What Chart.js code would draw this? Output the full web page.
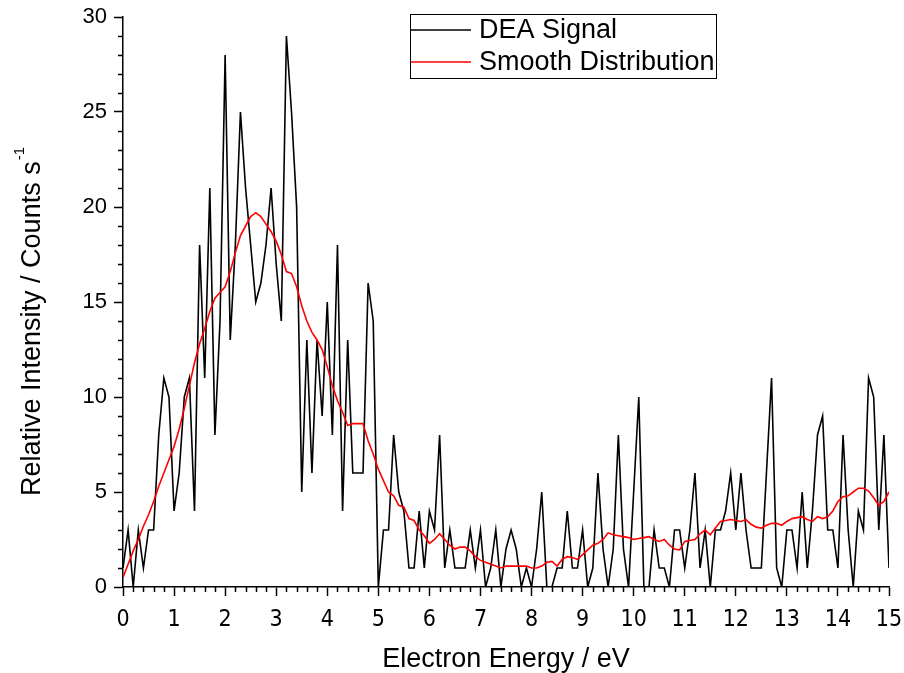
<!DOCTYPE html>
<html>
<head>
<meta charset="utf-8">
<script src="https://cdn.jsdelivr.net/npm/chart.js@4/dist/chart.umd.min.js"></script>
<style>
  html, body { margin: 0; padding: 0; background: #fff; }
  #wrap { width: 904px; height: 673px; }
</style>
</head>
<body>
<div id="wrap"><canvas id="graficoDEA" width="904" height="673"></canvas></div>
<script>
// energy grid: one reading every 0.1 eV from 0 to 15 eV
const energyStep = 0.1;

// DEA signal, counts per second
const deaSignal = [
  1, 3, 0, 3, 1, 3, 3, 8, 11, 10,
  4, 6, 10, 11, 4, 18, 11, 21, 8, 14,
  28, 13, 18, 25, 21, 18, 15, 16, 18, 21,
  17, 14, 29, 25, 20, 5, 13, 6, 13, 9,
  15, 8, 18, 4, 13, 6, 6, 6, 16, 14,
  0, 3, 3, 8, 5, 4, 1, 1, 4, 1,
  4, 3, 8, 1, 3, 1, 1, 1, 3, 1,
  3, 0, 1, 3, 0, 2, 3, 2, 0, 1,
  0, 2, 5, 0, 0, 1, 1, 4, 1, 1,
  3, 0, 1, 6, 2, 0, 2, 8, 2, 0,
  5, 10, 0, 0, 3, 1, 1, 0, 3, 3,
  1, 3, 6, 1, 3, 0, 3, 3, 4, 6,
  3, 6, 3, 1, 1, 1, 6, 11, 1, 0,
  3, 3, 1, 5, 1, 4, 8, 9, 3, 3,
  1, 8, 3, 0, 4, 3, 11, 10, 3, 8,
  1
];

// smoothed distribution on the same grid
const smoothDist = [
  0.5, 1.2, 1.9, 2.5, 3.2, 3.8, 4.5, 5.3, 6.0, 6.7,
  7.4, 8.3, 9.4, 10.6, 11.8, 12.8, 13.6, 14.5, 15.2, 15.5,
  15.8, 16.6, 17.6, 18.5, 19.0, 19.5, 19.7, 19.5, 19.1, 18.7,
  18.2, 17.5, 16.6, 16.5, 15.8, 14.8, 14.0, 13.4, 13.0, 12.5,
  11.6, 10.6, 9.8, 9.2, 8.5, 8.6, 8.6, 8.6, 7.7, 7.0,
  6.2, 5.6, 5.0, 4.8, 4.3, 4.2, 3.6, 3.5, 3.0, 2.7,
  2.3, 2.5, 2.8, 2.5, 2.2, 2.0, 2.1, 2.1, 1.9, 1.6,
  1.4, 1.3, 1.2, 1.1, 1.0, 1.1, 1.1, 1.1, 1.1, 1.1,
  1.0, 1.0, 1.1, 1.3, 1.35, 1.1, 1.45, 1.6, 1.55, 1.45,
  1.7, 1.95, 2.2, 2.3, 2.5, 2.85, 2.75, 2.7, 2.65, 2.6,
  2.5, 2.55, 2.6, 2.65, 2.5, 2.4, 2.5, 2.2, 2.0, 1.95,
  2.4, 2.45, 2.5, 2.8, 3.0, 2.75, 3.1, 3.45, 3.5, 3.55,
  3.5, 3.45, 3.55, 3.3, 3.15, 3.1, 3.25, 3.35, 3.35, 3.25,
  3.45, 3.6, 3.65, 3.7, 3.55, 3.45, 3.7, 3.6, 3.7, 4.0,
  4.5, 4.75, 4.8, 5.0, 5.2, 5.2, 5.05, 4.7, 4.3, 4.5,
  5.0
];

const xTicks = [0, 1, 2, 3, 4, 5, 6, 7, 8, 9, 10, 11, 12, 13, 14, 15];
const yTicks = [0, 5, 10, 15, 20, 25, 30];
const xMinorStep = 0.2;
const yMinorStep = 1;

const sans = "Arial, 'Liberation Sans', sans-serif";
const narrow = "'Liberation Sans Narrow', 'DejaVu Sans Condensed', 'Arial Narrow', sans-serif";

const energies = deaSignal.map((_, i) => Math.round(i * energyStep * 10) / 10);
const toPoints = vals => vals.map((v, i) => ({ x: energies[i], y: v }));

// small outside ticks between the labelled ones
const minorTicks = {
  id: 'minorTicks',
  afterDraw(chart) {
    const { ctx, chartArea, scales: { x, y } } = chart;
    ctx.save();
    ctx.strokeStyle = '#000';
    ctx.lineWidth = 1.5;
    ctx.beginPath();
    for (let i = 1; i * xMinorStep < x.max; i++) {
      const v = i * xMinorStep;
      if (Math.abs(v - Math.round(v)) < 1e-6) continue;
      const px = Math.round(x.getPixelForValue(v)) + 0.5;
      ctx.moveTo(px, chartArea.bottom);
      ctx.lineTo(px, chartArea.bottom + 5);
    }
    for (let i = 1; i * yMinorStep < y.max; i++) {
      const v = i * yMinorStep;
      if (v % 5 === 0) continue;
      const py = Math.round(y.getPixelForValue(v)) + 0.5;
      ctx.moveTo(chartArea.left, py);
      ctx.lineTo(chartArea.left - 5, py);
    }
    ctx.stroke();
    ctx.restore();
  }
};

// y title with a raised "-1"
const yTitle = {
  id: 'yTitle',
  afterDraw(chart) {
    const { ctx } = chart;
    const main = 'Relative Intensity / Counts s';
    const sup = '-1';
    ctx.save();
    ctx.fillStyle = '#000';
    ctx.translate(30, 322);
    ctx.rotate(-Math.PI / 2);
    ctx.font = '27px ' + sans;
    const w = ctx.measureText(main).width;
    ctx.font = '15px ' + sans;
    const ws = ctx.measureText(sup).width;
    const start = -(w + ws) / 2;
    ctx.textBaseline = 'alphabetic';
    ctx.textAlign = 'left';
    ctx.font = '27px ' + sans;
    ctx.fillText(main, start, 10);
    ctx.font = '15px ' + sans;
    ctx.fillText(sup, start + w + 1, -6);
    ctx.restore();
  }
};

// framed legend inside the plot
const legendBox = {
  id: 'legendBox',
  afterDraw(chart) {
    const { ctx } = chart;
    const items = chart.data.datasets;
    const box = { x: 410, y: 14, w: 306, h: 64 };
    ctx.save();
    ctx.strokeStyle = '#000';
    ctx.lineWidth = 1;
    ctx.strokeRect(box.x + 0.5, box.y + 0.5, box.w, box.h);
    ctx.font = '27px ' + sans;
    ctx.textBaseline = 'middle';
    ctx.fillStyle = '#000';
    items.forEach((ds, i) => {
      const ly = box.y + 16 + i * 32;
      ctx.strokeStyle = ds.borderColor;
      ctx.lineWidth = 1.5;
      ctx.beginPath();
      ctx.moveTo(box.x + 1, ly);
      ctx.lineTo(box.x + 61, ly);
      ctx.stroke();
      ctx.fillText(ds.label, box.x + 69, ly + 1);
    });
    ctx.restore();
  }
};

const ctx = document.getElementById('graficoDEA').getContext('2d');
new Chart(ctx, {
  type: 'line',
  data: {
    datasets: [
      {
        label: 'DEA Signal',
        data: toPoints(deaSignal),
        borderColor: '#000000',
        borderWidth: 1.6,
        pointRadius: 0,
        tension: 0,
        order: 1
      },
      {
        label: 'Smooth Distribution',
        data: toPoints(smoothDist),
        borderColor: '#ff0000',
        borderWidth: 1.6,
        pointRadius: 0,
        tension: 0,
        order: 0
      }
    ]
  },
  options: {
    responsive: false,
    animation: false,
    devicePixelRatio: 1,
    layout: { padding: { top: 17, right: 15, left: 0, bottom: 0 } },
    plugins: {
      legend: { display: false },
      tooltip: { enabled: false }
    },
    scales: {
      x: {
        type: 'linear',
        min: 0,
        max: 15,
        afterFit: s => {
          s.height = 86;
          s.paddingLeft = 0;
          s.paddingRight = 0;
        },
        afterBuildTicks: s => { s.ticks = xTicks.map(v => ({ value: v })); },
        ticks: {
          color: '#000',
          font: { family: narrow, size: 23 },
          padding: 10,
          maxRotation: 0,
          autoSkip: false
        },
        grid: {
          drawOnChartArea: false,
          drawTicks: true,
          tickLength: 9,
          tickColor: '#000',
          tickWidth: 1.5
        },
        border: { color: '#000', width: 1.5 },
        title: {
          display: true,
          text: 'Electron Energy / eV',
          color: '#000',
          font: { family: sans, size: 27, lineHeight: 1 },
          padding: { top: 0, bottom: 0 }
        }
      },
      y: {
        type: 'linear',
        min: 0,
        max: 30,
        afterFit: s => {
          s.width = 123;
          s.paddingTop = 0;
          s.paddingBottom = 0;
        },
        afterBuildTicks: s => { s.ticks = yTicks.map(v => ({ value: v })); },
        ticks: {
          color: '#000',
          font: { family: sans, size: 22 },
          padding: 7
        },
        grid: {
          drawOnChartArea: false,
          drawTicks: true,
          tickLength: 9,
          tickColor: '#000',
          tickWidth: 1.5
        },
        border: { color: '#000', width: 1.5 }
      }
    }
  },
  plugins: [minorTicks, yTitle, legendBox]
});
</script>
</body>
</html>
